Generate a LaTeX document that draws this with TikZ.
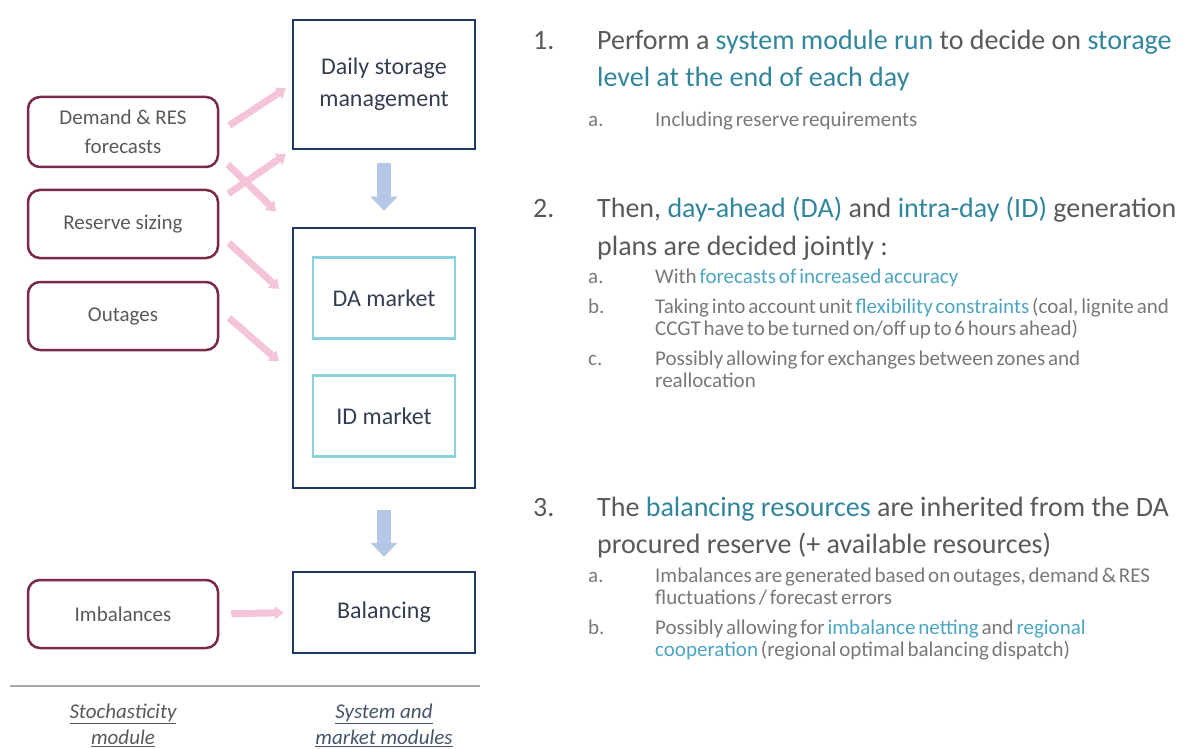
\documentclass[tikz,border=0pt]{standalone}
\usepackage{fontspec}
\setmainfont{Carlito}
\newfontfamily\subfont[WordSpace=0.6]{Carlito}
\usetikzlibrary{arrows.meta}
\definecolor{InClr}{RGB}{122,42,76}
\definecolor{ModClr}{RGB}{32,56,100}
\definecolor{MarketClr}{RGB}{140,210,222}
\definecolor{FlowClr}{RGB}{244,196,216}
\definecolor{StepClr}{RGB}{180,199,231}
\definecolor{TxtClr}{RGB}{89,89,89}
\definecolor{SubClr}{RGB}{120,120,120}
\definecolor{BoxTxtClr}{RGB}{51,63,80}
\definecolor{HiClr}{RGB}{49,133,156}
\definecolor{HiSubClr}{RGB}{75,165,195}
\definecolor{RuleClr}{RGB}{166,166,166}
\definecolor{ModTxtClr}{RGB}{68,84,106}
\newcommand{\hi}[1]{\textcolor{HiClr}{#1}}
\newcommand{\hs}[1]{\textcolor{HiSubClr}{#1}}

\begin{document}
\begin{tikzpicture}[x=1pt,y=-1pt,
  inbox/.style={draw=InClr,line width=2.5pt,rounded corners=12pt,minimum width=190pt,minimum height=68pt,inner sep=0pt,align=center,text=TxtClr,font=\fontsize{21}{29}\selectfont},
  modbox/.style={draw=ModClr,line width=2.5pt,minimum width=182pt,inner sep=0pt,align=center,text=BoxTxtClr,font=\fontsize{24}{32}\selectfont},
  mktbox/.style={draw=MarketClr,line width=2.5pt,minimum width=142pt,minimum height=81pt,inner sep=0pt,text=BoxTxtClr,font=\fontsize{24}{32}\selectfont},
  flow/.style={FlowClr,line width=7pt,-{Triangle[length=9pt,width=13pt]}},
  stepflow/.style={StepClr,line width=14pt,-{Triangle[length=14pt,width=26pt]}},
  itemtxt/.style={anchor=base west,inner sep=0pt,text=TxtClr,font=\fontsize{28}{34}\selectfont},
  subtxt/.style={anchor=base west,inner sep=0pt,text=SubClr,font=\subfont\fontsize{21}{26}\selectfont},
  modlbl/.style={align=center,inner sep=0pt,font=\itshape\fontsize{21}{26}\selectfont}]
\useasboundingbox (0,0) rectangle (1195,749);

% stochasticity module
\node[inbox,minimum height=70pt] (dem) at (123,132) {Demand \& RES\\forecasts};
\node[inbox] (res) at (123,224) {Reserve sizing};
\node[inbox] (out) at (123,316) {Outages};
\node[inbox] (imb) at (123,614) {Imbalances};

% system and market modules
\node[modbox,minimum height=129pt] (daily) at (384,84.5) {Daily storage\\management};
\node[modbox,minimum height=260pt] (big) at (384,358) {};
\node[mktbox] (da) at (384,298) {DA market};
\node[mktbox] (id) at (384,416) {ID market};
\node[modbox,minimum height=81pt] (bal) at (384,612.5) {Balancing};

\draw[flow,shorten <=12pt,shorten >=7pt] (dem.east) -- (daily.west);
\draw[flow,shorten <=12pt,shorten >=22pt] (dem.-14) -- (big.north west);
\draw[flow,shorten <=11pt,shorten >=7pt] (res.14) -- (daily.south west);
\draw[flow,shorten <=13pt,shorten >=17pt] (res.-6) -- (big.148);
\draw[flow,shorten <=13pt,shorten >=17pt] (out.4) -- (big.189);
\draw[flow,shorten <=12pt,shorten >=8pt] (imb.east) -- (bal.west);

\draw[stepflow,shorten <=13pt,shorten >=16pt] (daily.south) -- (big.north);
\draw[stepflow,shorten <=21pt,shorten >=14pt] (big.south) -- (bal.north);

\draw[RuleClr,line width=2.5pt] (10,686) -- (480,686);
\node[modlbl,text=TxtClr] (stoch) at (123,725) {\underline{Stochasticity}\\\underline{module}};
\node[modlbl,text=ModTxtClr] (sysmod) at (384,725) {\underline{System and}\\\underline{market modules}};

% steps
\node[itemtxt] (n1) at (533,50) {1.};
\node[itemtxt] (s1a) at (597,50) {Perform a \hi{system module run} to decide on \hi{storage}};
\node[itemtxt] (s1b) at (597,87) {\hi{level at the end of each day}};
\node[subtxt] (l1a) at (588,127) {a.};
\node[subtxt] (t1a) at (655,127) {Including reserve requirements};

\node[itemtxt] (n2) at (533,218) {2.};
\node[itemtxt] (s2a) at (597,218) {Then, \hi{day-ahead (DA)} and \hi{intra-day (ID)} generation};
\node[itemtxt] (s2b) at (597,255) {plans are decided jointly :};
\node[subtxt] (l2a) at (588,283) {a.};
\node[subtxt] (t2a) at (655,283) {With \hs{forecasts of increased accuracy}};
\node[subtxt] (l2b) at (588,313) {b.};
\node[subtxt] (t2b) at (655,313) {Taking into account unit \hs{flexibility constraints} (coal, lignite and};
\node[subtxt] (t2bb) at (655,335) {CCGT have to be turned on/off up to 6 hours ahead)};
\node[subtxt] (l2c) at (588,365) {c.};
\node[subtxt] (t2c) at (655,365) {Possibly allowing for exchanges between zones and};
\node[subtxt] (t2cc) at (655,387) {reallocation};

\node[itemtxt] (n3) at (533,516) {3.};
\node[itemtxt] (s3a) at (597,516) {The \hi{balancing resources} are inherited from the DA};
\node[itemtxt] (s3b) at (597,553) {procured reserve (+ available resources)};
\node[subtxt] (l3a) at (588,582) {a.};
\node[subtxt] (t3a) at (655,582) {Imbalances are generated based on outages, demand \& RES};
\node[subtxt] (t3aa) at (655,604) {fluctuations / forecast errors};
\node[subtxt] (l3b) at (588,634) {b.};
\node[subtxt] (t3b) at (655,634) {Possibly allowing for \hs{imbalance netting} and \hs{regional}};
\node[subtxt] (t3bb) at (655,656) {\hs{cooperation} (regional optimal balancing dispatch)};
\end{tikzpicture}
\end{document}
